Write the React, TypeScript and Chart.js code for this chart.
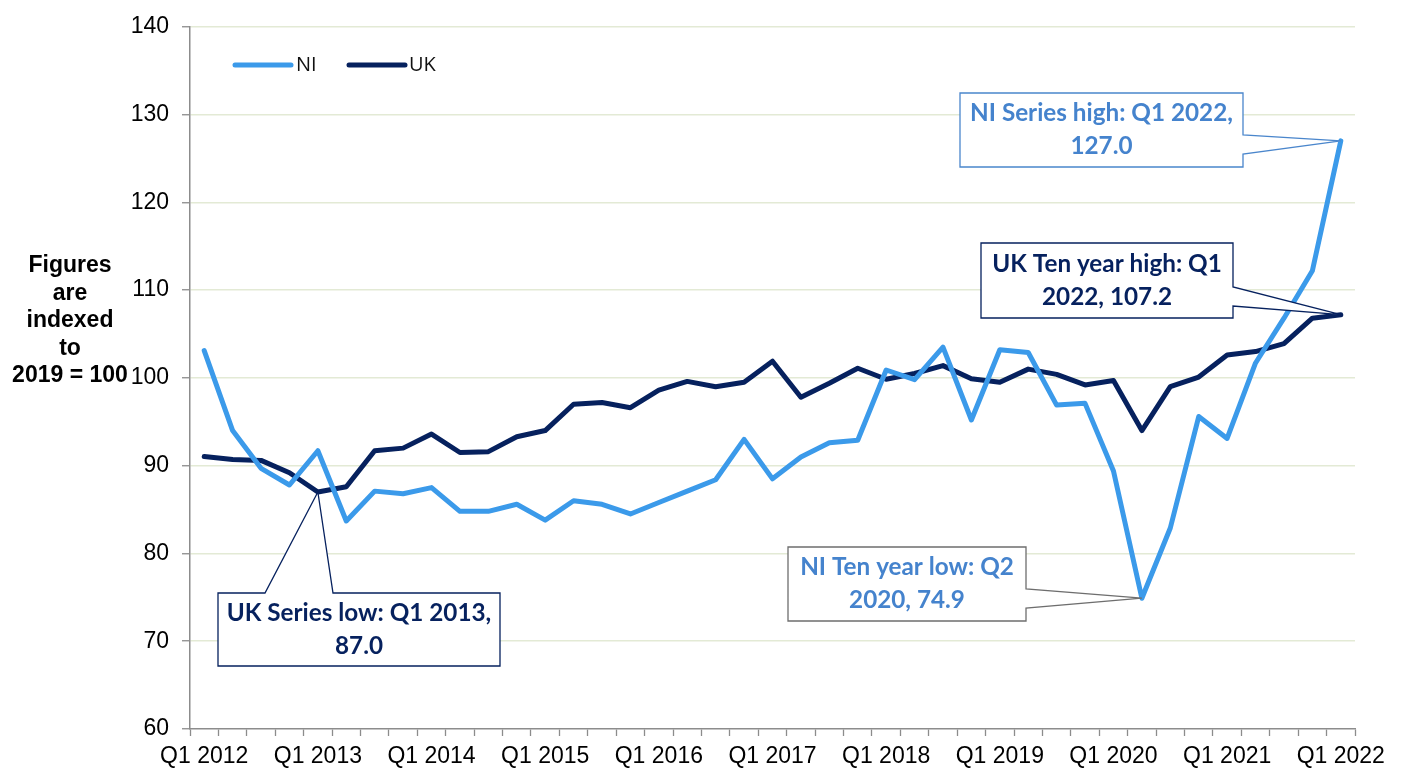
import { useEffect, useRef } from "react";
import { Chart, registerables } from "chart.js";

Chart.register(...registerables);

const categories = [
  "Q1 2012", "Q2 2012", "Q3 2012", "Q4 2012",
  "Q1 2013", "Q2 2013", "Q3 2013", "Q4 2013",
  "Q1 2014", "Q2 2014", "Q3 2014", "Q4 2014",
  "Q1 2015", "Q2 2015", "Q3 2015", "Q4 2015",
  "Q1 2016", "Q2 2016", "Q3 2016", "Q4 2016",
  "Q1 2017", "Q2 2017", "Q3 2017", "Q4 2017",
  "Q1 2018", "Q2 2018", "Q3 2018", "Q4 2018",
  "Q1 2019", "Q2 2019", "Q3 2019", "Q4 2019",
  "Q1 2020", "Q2 2020", "Q3 2020", "Q4 2020",
  "Q1 2021", "Q2 2021", "Q3 2021", "Q4 2021",
  "Q1 2022",
];

const niValues = [
  103.1, 94.0, 89.7, 87.8, 91.7, 83.7, 87.1, 86.8, 87.5, 84.8,
  84.8, 85.6, 83.8, 86.0, 85.6, 84.5, 85.8, 87.1, 88.4, 93.0,
  88.5, 91.0, 92.6, 92.9, 100.9, 99.8, 103.5, 95.2, 103.2, 102.9,
  96.9, 97.1, 89.4, 74.9, 82.9, 95.6, 93.1, 101.7, 106.8, 112.2,
  127.0,
];

const ukValues = [
  91.05, 90.7, 90.6, 89.2, 87.0, 87.6, 91.7, 92.0, 93.6, 91.5,
  91.6, 93.3, 94.0, 97.0, 97.2, 96.6, 98.6, 99.6, 99.0, 99.5,
  101.9, 97.8, 99.4, 101.1, 99.85, 100.5, 101.4, 99.9, 99.5, 101.0,
  100.4, 99.2, 99.7, 94.0, 99.0, 100.1, 102.6, 103.0, 103.9, 106.8,
  107.2,
];

const seriesNames = ["NI", "UK"];
const yMin = 60;
const yMax = 140;
const yStep = 10;
const xLabelEvery = 4;
const yTitleLines = ["Figures", "are", "indexed", "to", "2019 = 100"];

// Callout texts and the data point each one points at
const calloutTexts = [
  ["NI Series high: Q1 2022,", "127.0"],
  ["UK Ten year high: Q1", "2022, 107.2"],
  ["NI Ten year low: Q2", "2020, 74.9"],
  ["UK Series low: Q1 2013,", "87.0"],
];
const calloutTargets = [
  { dataset: 0, index: 40 },
  { dataset: 1, index: 40 },
  { dataset: 0, index: 33 },
  { dataset: 1, index: 4 },
];

// Layout / style (pixels)
const NI_COLOR = "#3b9aea";
const UK_COLOR = "#06215e";
const NI_TEXT = "#4583cd";
const GRID_COLOR = "#e3ead5";
const AXIS_COLOR = "#8c8c8c";
const calloutLayout = [
  { x: 960, y: 93, w: 283, h: 74, side: "right", a: 135, b: 154, border: "#4a86cc", text: NI_TEXT },
  { x: 981, y: 243, w: 252, h: 75, side: "right", a: 287, b: 306, border: UK_COLOR, text: UK_COLOR },
  { x: 788, y: 547, w: 238, h: 74, side: "right", a: 589, b: 608, border: "#6e6e6e", text: NI_TEXT },
  { x: 218, y: 593, w: 282, h: 73, side: "top", a: 265, b: 333, border: UK_COLOR, text: UK_COLOR },
];

const overlayPlugin = {
  id: "overlay",
  afterDatasetsDraw(chart: any) {
    const ctx = chart.ctx as CanvasRenderingContext2D;
    ctx.save();

    // Legend
    const legendItems = [
      { x1: 235, x2: 291, tx: 296 },
      { x1: 349, x2: 405, tx: 409 },
    ];
    chart.data.datasets.forEach((ds: any, i: number) => {
      const it = legendItems[i];
      ctx.beginPath();
      ctx.strokeStyle = ds.borderColor;
      ctx.lineWidth = 5;
      ctx.lineCap = "round";
      ctx.moveTo(it.x1, 65);
      ctx.lineTo(it.x2, 65);
      ctx.stroke();
      ctx.fillStyle = "#111";
      ctx.font = "20px 'Open Sans', sans-serif";
      ctx.textAlign = "left";
      ctx.textBaseline = "middle";
      ctx.fillText(ds.label, it.tx, 65);
    });

    // Callouts
    const family = "Lato, 'Open Sans', sans-serif";
    ctx.font = `bold 100px ${family}`;
    const ref = ctx.measureText(calloutTexts[0][0]).width;
    const fs = (100 * 263) / ref;
    calloutLayout.forEach((L, i) => {
      const t = calloutTargets[i];
      const pt = chart.getDatasetMeta(t.dataset).data[t.index];
      const px = pt.x;
      const py = pt.y;
      ctx.beginPath();
      if (L.side === "right") {
        ctx.moveTo(L.x, L.y);
        ctx.lineTo(L.x + L.w, L.y);
        ctx.lineTo(L.x + L.w, L.a);
        ctx.lineTo(px, py);
        ctx.lineTo(L.x + L.w, L.b);
        ctx.lineTo(L.x + L.w, L.y + L.h);
        ctx.lineTo(L.x, L.y + L.h);
      } else {
        ctx.moveTo(L.x, L.y);
        ctx.lineTo(L.a, L.y);
        ctx.lineTo(px, py);
        ctx.lineTo(L.b, L.y);
        ctx.lineTo(L.x + L.w, L.y);
        ctx.lineTo(L.x + L.w, L.y + L.h);
        ctx.lineTo(L.x, L.y + L.h);
      }
      ctx.closePath();
      ctx.fillStyle = "#ffffff";
      ctx.fill();
      ctx.strokeStyle = L.border;
      ctx.lineWidth = 1.3;
      ctx.lineJoin = "miter";
      ctx.stroke();

      ctx.fillStyle = L.text;
      ctx.font = `bold ${fs}px ${family}`;
      ctx.textAlign = "center";
      ctx.textBaseline = "middle";
      const cx = L.x + L.w / 2;
      const cy = L.y + L.h / 2;
      const lines = calloutTexts[i];
      ctx.fillText(lines[0], cx, cy - 16.5);
      ctx.fillText(lines[1], cx, cy + 16.5);
    });

    ctx.restore();
  },
  afterDraw(chart: any) {
    const ctx = chart.ctx as CanvasRenderingContext2D;
    ctx.save();
    ctx.fillStyle = "#000";
    ctx.font = "bold 23px 'Liberation Sans', Arial, sans-serif";
    ctx.textAlign = "center";
    ctx.textBaseline = "middle";
    yTitleLines.forEach((l, i) => {
      ctx.fillText(l, 70, 266 + i * 27.5);
    });
    ctx.restore();
  },
};

export default function App() {
  const canvasRef = useRef<HTMLCanvasElement | null>(null);

  useEffect(() => {
    const canvas = canvasRef.current;
    if (!canvas) return;
    const chart = new Chart(canvas, {
      type: "line",
      data: {
        labels: categories,
        datasets: [
          {
            label: seriesNames[0],
            data: niValues,
            borderColor: NI_COLOR,
            backgroundColor: NI_COLOR,
            borderWidth: 5,
            pointRadius: 0,
            tension: 0,
            borderJoinStyle: "round",
            borderCapStyle: "round",
          },
          {
            label: seriesNames[1],
            data: ukValues,
            borderColor: UK_COLOR,
            backgroundColor: UK_COLOR,
            borderWidth: 5,
            pointRadius: 0,
            tension: 0,
            borderJoinStyle: "round",
            borderCapStyle: "round",
          },
        ],
      },
      options: {
        responsive: false,
        animation: false,
        layout: { padding: { top: 19, right: 49, left: 0, bottom: 0 } },
        plugins: {
          legend: { display: false },
          title: { display: false },
          tooltip: { enabled: false },
        },
        scales: {
          x: {
            type: "category",
            offset: true,
            grid: {
              offset: true,
              drawOnChartArea: false,
              drawTicks: true,
              tickLength: 7,
              tickColor: AXIS_COLOR,
              tickWidth: 1.3,
            },
            border: { color: AXIS_COLOR, width: 1.5 },
            ticks: {
              autoSkip: false,
              maxRotation: 0,
              minRotation: 0,
              padding: 7,
              color: "#000",
              font: { family: "'Liberation Sans', Arial, sans-serif", size: 23 },
              callback: (_v: any, index: number) =>
                index % xLabelEvery === 0 ? categories[index] : "",
            },
            afterFit: (scale: any) => {
              scale.height = 41;
            },
          },
          y: {
            min: yMin,
            max: yMax,
            grid: {
              color: (c: any) => (c.tick && c.tick.value === yMin ? "rgba(0,0,0,0)" : GRID_COLOR),
              lineWidth: 1.5,
              tickLength: 8,
              tickColor: AXIS_COLOR,
              tickWidth: 1.3,
            },
            border: { color: AXIS_COLOR, width: 1.5 },
            ticks: {
              stepSize: yStep,
              padding: 13,
              color: "#000",
              font: { family: "'Liberation Sans', Arial, sans-serif", size: 23 },
            },
            afterFit: (scale: any) => {
              scale.width = 190;
            },
          },
        },
      },
      plugins: [overlayPlugin],
    });
    return () => chart.destroy();
  }, []);

  return (
    <div style={{ position: "absolute", left: 0, top: 0, width: 1404, height: 770, background: "#fff" }}>
      <canvas ref={canvasRef} width={1404} height={770} style={{ display: "block" }} />
    </div>
  );
}
